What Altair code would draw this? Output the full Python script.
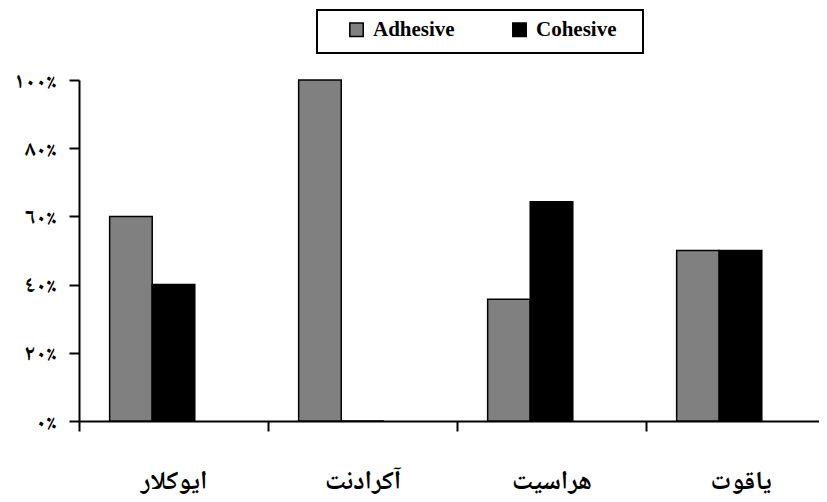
import json
import altair as alt
import pandas as pd

categories = ["ایوکلار", "آکرادنت", "هراسیت", "یاقوت"]
series = ["Adhesive", "Cohesive"]
adhesive = [60, 100, 35.7, 50]
cohesive = [40, 0, 64.3, 50]
y_ticks = [0, 20, 40, 60, 80, 100]
y_tick_labels = ["٠٪", "٢٠٪", "٤٠٪", "٦٠٪", "٨٠٪", "١٠٠٪"]
colors = ["#808080", "#000000"]

rows = []
for i, c in enumerate(categories):
    rows.append({"cat": c, "series": series[0], "val": adhesive[i]})
    rows.append({"cat": c, "series": series[1], "val": cohesive[i]})
df = pd.DataFrame(rows)

label_expr = json.dumps(y_tick_labels, ensure_ascii=False) + "[round(datum.value / 20)]"

FONT = "Liberation Serif"
AFONT = "Liberation Serif, Noto Naskh Arabic, Noto Sans Arabic, DejaVu Sans"

bars = alt.Chart(df).mark_bar(stroke="black", strokeWidth=1.5).encode(
    x=alt.X("cat:N", sort=categories, title=None,
            scale=alt.Scale(domain=categories, range=[0, 756], paddingInner=0, paddingOuter=0),
            axis=alt.Axis(tickBand="extent", labelAngle=0, labelFont=AFONT, labelFontSize=26,
                          labelFontWeight="bold", labelColor="black", labelBaseline="alphabetic",
                          labelPadding=57, tickSize=10, tickColor="black", tickWidth=2,
                          domainColor="black", domainWidth=2, grid=False, labelLimit=300)),
    xOffset=alt.XOffset("series:N",
                        scale=alt.Scale(domain=series + ["_"], paddingInner=0, paddingOuter=0.72)),
    y=alt.Y("val:Q", title=None,
            scale=alt.Scale(domain=[0, 100], nice=False),
            axis=alt.Axis(values=y_ticks, labelExpr=label_expr, labelFont=AFONT, labelFontSize=22,
                          labelFontWeight="bold", labelColor="black", labelPadding=13,
                          tickSize=10, tickColor="black", tickWidth=2,
                          domainColor="black", domainWidth=2, grid=False)),
    color=alt.Color("series:N", scale=alt.Scale(domain=series, range=colors),
                    legend=alt.Legend(title=None, orient="none", legendX=267, legendY=-61,
                                      direction="horizontal", columns=2, columnPadding=54,
                                      symbolType="square", symbolSize=180,
                                      symbolStrokeColor="black", symbolStrokeWidth=1.5,
                                      labelFont=FONT, labelFontSize=21, labelFontWeight="bold",
                                      labelColor="black", labelOffset=6, padding=0)),
)

frame = alt.Chart(pd.DataFrame({"a": [0]})).mark_rect(
    fill="white", stroke="black", strokeWidth=2
).encode(
    x=alt.value(238), x2=alt.value(564), y=alt.value(-70), y2=alt.value(-27)
)

chart = alt.layer(frame, bars).properties(
    width=740, height=341,
    autosize=alt.AutoSizeParams(type="none"),
    padding={"left": 71, "top": 72, "right": 0, "bottom": 76},
).configure_view(stroke=None)

chart.save("out.html", embed_options={"renderer": "svg", "actions": False})
